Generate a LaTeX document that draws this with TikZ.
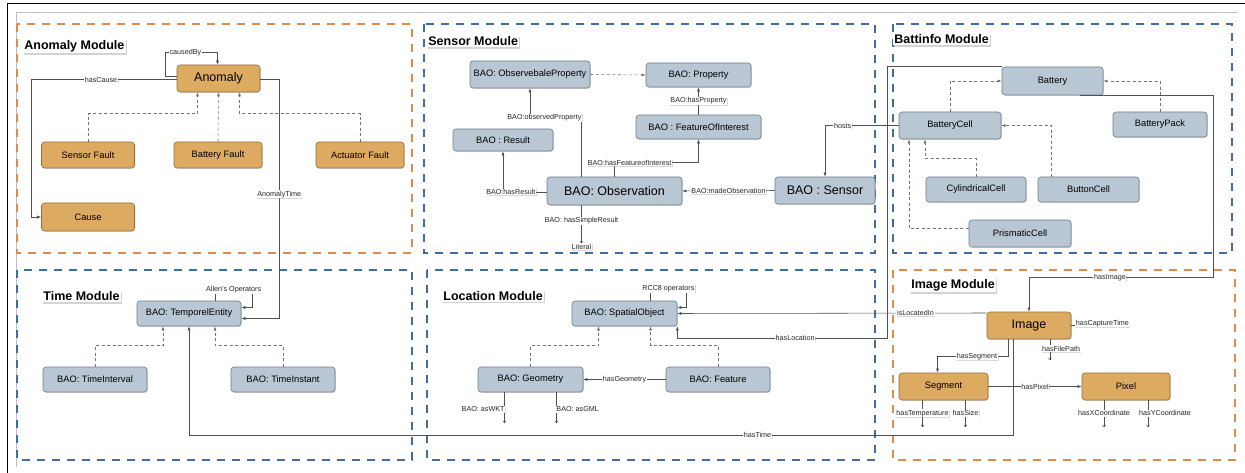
\documentclass[tikz,border=0pt]{standalone}
\usepackage{fontspec}
\setmainfont{Liberation Sans}
\usetikzlibrary{arrows.meta,shadows}

\definecolor{anofill}{RGB}{221,170,98}
\definecolor{anodraw}{RGB}{150,108,58}
\definecolor{baofill}{RGB}{184,199,211}
\definecolor{baodraw}{RGB}{108,126,142}
\definecolor{frameorange}{RGB}{222,140,78}
\definecolor{frameblue}{RGB}{66,108,164}
\definecolor{linegray}{RGB}{80,80,80}

\tikzset{
  box/.style={draw, rounded corners=3pt, line width=0.6pt, inner sep=1pt,
    drop shadow={shadow xshift=0.9pt, shadow yshift=-0.9pt, opacity=0.3},
    font=\fontsize{9.3}{11}\selectfont},
  obox/.style={box, fill=anofill, draw=anodraw},
  gbox/.style={box, fill=baofill, draw=baodraw},
  big/.style={font=\fontsize{12.5}{14}\selectfont},
  sz/.style 2 args={minimum width=#1pt, minimum height=#2pt},
  rel/.style={draw=linegray, line width=0.55pt, -{Latex[length=4pt,width=3pt]}},
  isa/.style={rel, draw=black!55, dash pattern=on 3pt off 2.5pt},
  leaf/.style={draw=linegray, line width=0.5pt, -{Straight Barb[length=2pt,width=3pt]}},
  lbl/.style={fill=white, inner sep=0.7pt, text=black!85,
    font=\fontsize{7.2}{8}\selectfont,
    drop shadow={shadow xshift=0.6pt, shadow yshift=-0.6pt, opacity=0.3}},
  title/.style={fill=white, inner sep=1.2pt, anchor=west,
    font=\bfseries\fontsize{12.5}{14}\selectfont,
    drop shadow={shadow xshift=1.2pt, shadow yshift=-1.5pt, opacity=0.35}},
  orangemod/.style={draw=frameorange, line width=1.2pt, dash pattern=on 8pt off 7pt},
  bluemod/.style={draw=frameblue, line width=1.2pt, dash pattern=on 8pt off 7pt}
}

\begin{document}
\begin{tikzpicture}[x=1pt,y=-1pt]
\useasboundingbox (0,0) rectangle (1245,473);

% page frame
\draw[line width=1pt] (7,473) -- (7,4) -- (1245,4);
\draw[black!25, line width=0.6pt] (16,467) -- (16,12) -- (1238,12);

% modules
\draw[orangemod] (17,24) rectangle (412,253);
\draw[bluemod] (424,24) rectangle (875,253);
\draw[bluemod] (893,24) rectangle (1232,253);
\draw[bluemod] (17,270) rectangle (412,460);
\draw[bluemod] (427,270) rectangle (875,460);
\draw[orangemod] (893,270) rectangle (1235,460);

\node[title] (anomalymod) at (23,46) {Anomaly Module};
\node[title] (sensormod) at (427,41.5) {Sensor Module};
\node[title] (battmod) at (893,39.5) {Battinfo Module};
\node[title] (timemod) at (42,296.5) {Time Module};
\node[title] (locmod) at (442,296) {Location Module};
\node[title] (imagemod) at (910,285) {Image Module};


% anomaly
\node[obox, big, sz={83}{27}] (anomaly) at (218.5,78.5) {Anomaly};
\node[obox, sz={93}{26}] (sfault) at (88,155) {Sensor Fault};
\node[obox, sz={88}{26}] (bfault) at (218,155) {Battery Fault};
\node[obox, sz={88}{26}] (afault) at (360,155) {Actuator Fault};
\node[obox, sz={93}{28}] (cause) at (88,217) {Cause};

% time
\node[gbox, sz={104}{25}] (temporel) at (189,313.5) {BAO: TemporelEntity};
\node[gbox, sz={104}{25}] (tinterval) at (95,379.5) {BAO: TimeInterval};
\node[gbox, sz={104}{25}] (tinstant) at (283,379.5) {BAO: TimeInstant};

% sensor
\node[gbox, sz={120}{27}] (obsprop) at (530,74.5) {BAO: ObservebaleProperty};
\node[gbox, sz={105}{24}] (property) at (698.5,75) {BAO: Property};
\node[gbox, sz={125}{24}] (foi) at (698.5,127) {BAO : FeatureOfInterest};
\node[gbox, sz={100}{22}] (result) at (503,140) {BAO : Result};
\node[gbox, big, sz={135}{28}] (observation) at (614.5,191) {BAO: Observation};
\node[gbox, big, sz={100}{27}] (sensor) at (825,190.5) {BAO : Sensor};
\node[lbl] (literal) at (581.5,247) {Literal};

% location
\node[gbox, sz={105}{25}] (spatial) at (624.5,313.5) {BAO: SpatialObject};
\node[gbox, sz={105}{25}] (geometry) at (530.5,379.5) {BAO: Geometry};
\node[gbox, sz={104}{25}] (feature) at (718,379.5) {BAO: Feature};

% battinfo
\node[gbox, sz={101}{28}] (battery) at (1052.5,81) {Battery};
\node[gbox, sz={102}{27}] (bcell) at (950,125.5) {BatteryCell};
\node[gbox, sz={94}{25}] (bpack) at (1160,124.5) {BatteryPack};
\node[gbox, sz={100}{25}] (cylcell) at (976,189.5) {CylindricalCell};
\node[gbox, sz={101}{25}] (btncell) at (1088.5,189.5) {ButtonCell};
\node[gbox, sz={102}{27}] (priscell) at (1020,233.5) {PrismaticCell};

% image
\node[obox, big, sz={84}{27}] (image) at (1029,325.5) {Image};
\node[obox, sz={89}{27}] (segment) at (943.5,386.5) {Segment};
\node[obox, sz={88}{27}] (pixel) at (1126,386.5) {Pixel};


% subclass links
\draw[isa] (sfault.north) -- ++(0,-28) -| ([xshift=-21pt]anomaly.south);
\draw[isa] (bfault.north) -- (anomaly.south);
\draw[isa] (afault.north) -- ++(0,-28) -| ([xshift=21pt]anomaly.south);

\draw[isa] (tinterval.north) -- ++(0,-21) -| ([xshift=-26pt]temporel.south);
\draw[isa] (tinstant.north) -- ++(0,-21) -| ([xshift=26pt]temporel.south);

\draw[isa] (obsprop.east) -- (property.west);

\draw[isa] (geometry.north) -- ++(0,-21) -| ([xshift=-26pt]spatial.south);
\draw[isa] (feature.north) -- ++(0,-21) -| ([xshift=26pt]spatial.south);

\draw[isa] (bcell.north) |- (battery.west);
\draw[isa] (bpack.north) |- (battery.east);
\draw[isa] ([xshift=-37pt]btncell.north) |- (bcell.east);
\draw[isa] (cylcell.north) -- ++(0,-18) -| ([xshift=-25pt]bcell.south);
\draw[isa] ([yshift=5pt]priscell.west) -| ([xshift=-41pt]bcell.south);


% anomaly relations
\draw[rel] ([yshift=2pt]anomaly.west) -- ++(-11,0) -- ++(0,-24)
  -| node[lbl, pos=0.19] {causedBy} ([xshift=-1pt]anomaly.north);
\draw[rel] ([yshift=-1pt]anomaly.west) -| node[lbl, pos=0.26] {hasCause}
  ([xshift=-10pt]cause.west) -- (cause.west);
\draw[rel] ([yshift=-1pt]anomaly.east) -| node[lbl, pos=0.74] {AnomalyTime}
  ([xshift=38pt,yshift=-5pt]temporel.east) -- ([yshift=-5pt]temporel.east);
\draw[rel] ([xshift=26pt]temporel.north) -- ++(0,-11)
  -| node[lbl, pos=0.25] {Allen's Operators} ([xshift=11pt,yshift=6pt]temporel.east)
  -- ([yshift=6pt]temporel.east);

% sensor relations
\draw[rel] (foi.north) -- node[lbl] {BAO:hasProperty} (property.south);
\draw[rel] ([xshift=-33pt]observation.north) -- ++(0,-59)
  -| node[lbl, pos=0.36] {BAO:observedProperty} (obsprop.south);
\draw[rel] (observation.north) -- ++(0,-14)
  -| node[lbl, pos=0.09] {BAO:hasFeatureofInterest} (foi.south);
\draw[rel] ([yshift=-1pt]observation.west) -| node[lbl, pos=0.41] {BAO:hasResult} (result.south);
\draw[rel] (sensor.west) -- node[lbl] {BAO:madeObservation} (observation.east);
\draw[leaf] ([xshift=-33pt]observation.south) -- node[lbl, pos=0.4] {BAO: hasSimpleResult} (literal.north);
\draw[rel] (bcell.west) -| node[lbl, pos=0.38] {hosts} (sensor.north);

% location relations
\draw[rel] ([xshift=26pt]spatial.north) -- ++(0,-12)
  -| node[lbl, pos=0.25] {RCC8 operators} ([xshift=9pt,yshift=6pt]spatial.east)
  -- ([yshift=6pt]spatial.east);
\draw[rel] (feature.west) -- node[lbl] {hasGeometry} (geometry.east);
\draw[leaf] ([xshift=-26pt]geometry.south) -- ++(0,31) node[lbl, pos=0.55, anchor=east, xshift=1pt] {BAO: asWKT};
\draw[leaf] ([xshift=26pt]geometry.south) -- ++(0,31) node[lbl, pos=0.55, anchor=west, xshift=-1pt] {BAO: asGML};
\draw[rel] (battery.north west) -- ++(-114,0)
  |- node[lbl, pos=0.72] {hasLocation} ([yshift=-12pt]spatial.south east) -- (spatial.south east);

% image relations
\draw[rel] ([xshift=27pt]battery.south) -- ++(133.5,0)
  |- node[lbl, pos=0.78] {hasImage} ([yshift=34pt]image.north) -- (image.north);
\draw[rel] ([yshift=12.5pt]image.west) -- node[lbl, pos=0.23] {isLocatedIn} (spatial.east);
\draw[rel] ([xshift=-16pt]image.south) -- ++(0,96)
  -| node[lbl, pos=0.155] {hasTime} (temporel.south);
\draw[leaf] (image.east) -- ++(41,0) node[lbl, pos=0.76, anchor=south, yshift=-2pt] {hasCaptureTime};
\draw[leaf] ([xshift=21pt]image.south) -- ++(0,21) node[lbl, pos=0.45, xshift=11pt] {hasFilePath};
\draw[rel] ([xshift=-21pt]image.south) -- ++(0,17)
  -| node[lbl, pos=0.22] {hasSegment} ([xshift=-6pt]segment.north);
\draw[rel] (segment.east) -- node[lbl] {hasPixel} (pixel.west);

\foreach \src/\dx/\lx/\txt in {segment/-21/0/hasTemperature, segment/22/0/hasSize,
    pixel/-22/0/hasXCoordinate, pixel/22/17/hasYCoordinate}
  \draw[leaf] ([xshift=\dx pt]\src.south) -- ++(0,27) node[lbl, pos=0.48, xshift=\lx pt] {\txt};

\end{tikzpicture}
\end{document}
